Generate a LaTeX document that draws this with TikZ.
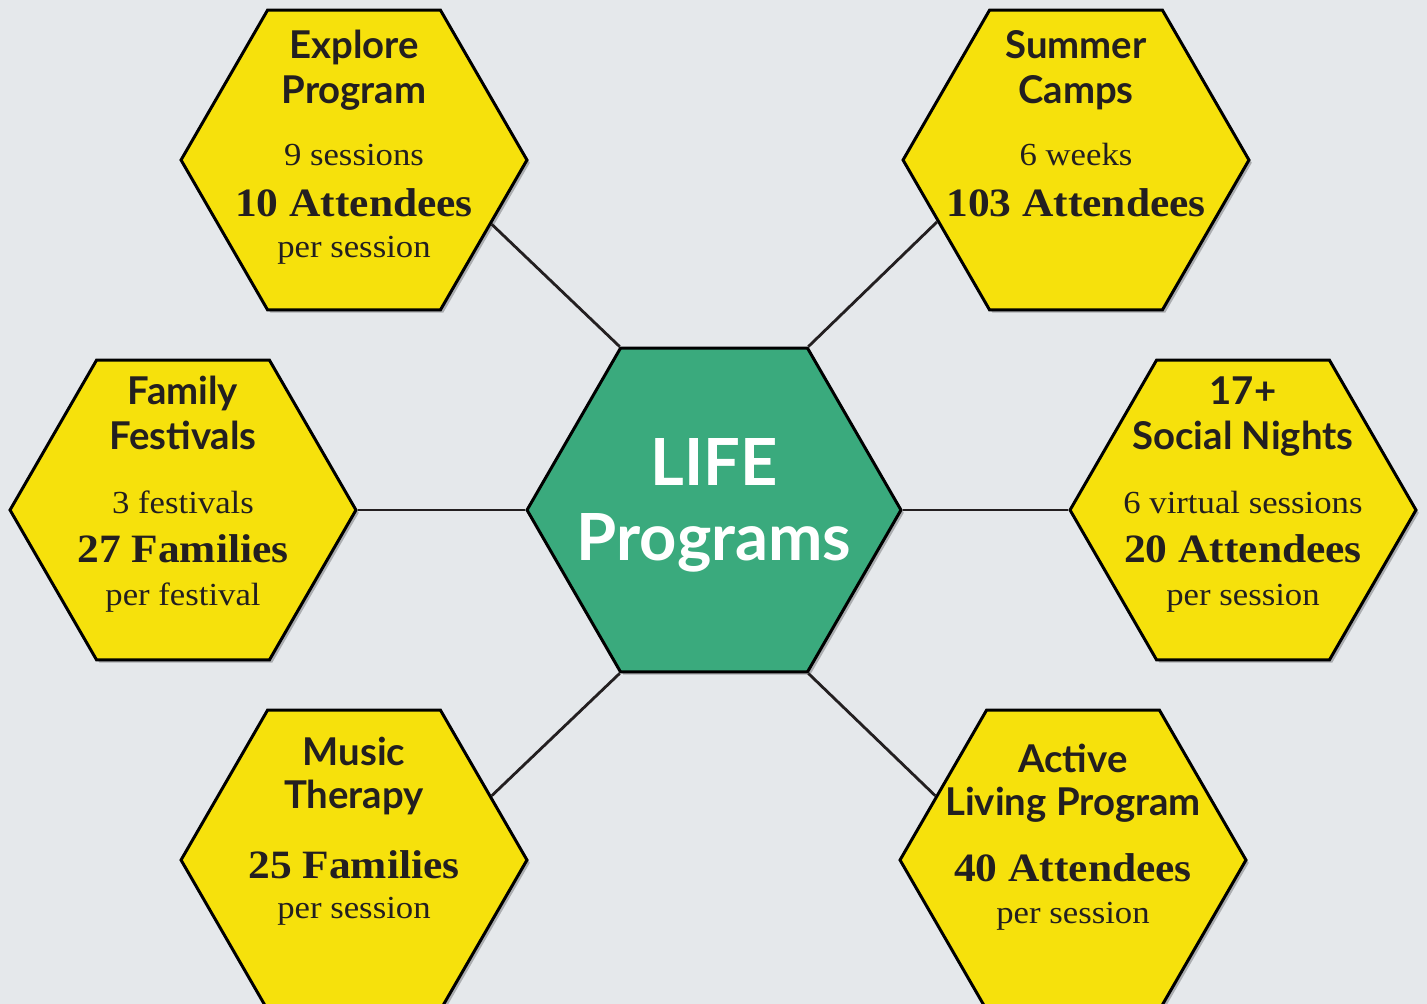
\documentclass[tikz,border=0pt]{standalone}
\usepackage{fontspec}
\setmainfont{Liberation Serif}[FakeStretch=1.08]
\newfontfamily\ttlfont{Lato}
\usepackage{tikz}
\usetikzlibrary{positioning, calc, shapes.geometric, shadows}

\definecolor{pagegray}{HTML}{E5E8EB}
\definecolor{hexyellow}{HTML}{F6E10C}
\definecolor{hubgreen}{HTML}{3AAA7D}
\definecolor{ink}{HTML}{231F20}

\tikzset{
	hexa/.style={regular polygon, regular polygon sides=6, draw=black, line width=1.7pt,
		minimum size=6.92cm, inner sep=0pt, fill=hexyellow,
		drop shadow={shadow xshift=1.6pt, shadow yshift=-1.6pt, opacity=0.25, fill=black}},
	hub/.style={hexa, minimum size=7.48cm, fill=hubgreen},
	ttl/.style={anchor=base, inner sep=0pt, text=ink, font=\ttlfont\bfseries\fontsize{21.8}{24}\selectfont},
	hubttl/.style={anchor=base, inner sep=0pt, text=white, font=\ttlfont\bfseries\fontsize{37}{40}\selectfont},
	sub/.style={anchor=base, inner sep=0pt, text=ink, font=\fontsize{18.3}{20}\selectfont},
	big/.style={anchor=base, inner sep=0pt, text=ink, font=\bfseries\fontsize{22.9}{24}\selectfont},
	link/.style={draw=ink, line width=1.6pt}
}

\begin{document}
\begin{tikzpicture}[x=0.02cm, y=-0.02cm]
	
	\useasboundingbox (0,0) rectangle (1427,1004);
	\clip (0,0) rectangle (1427,1004);
	\fill[pagegray] (0,0) rectangle (1427,1004);
	
	% hexagons
	\node (hub) at (714,510) [hub]{};
	\node (explore) at (354,160) [hexa]{};
	\node (summer) at (1076,160) [hexa]{};
	\node (family) at (183,510) [hexa]{};
	\node (social) at (1243,510) [hexa]{};
	\node (music) at (354,860) [hexa]{};
	\node (active) at (1073,860) [hexa]{};
	
	% links
	\draw[link] (hub.120) -- (explore.-25);
	\draw[link] (hub.60) -- (summer.204);
	\draw[link] (hub.180) -- (family.0);
	\draw[link] (hub.0) -- (social.180);
	\draw[link] (hub.240) -- (music.25);
	\draw[link] (hub.300) -- (active.155);
	
	% centre
	\node (hub1) at ($(hub)+(0,-25)$) [hubttl]{LIFE};
	\node (hub2) at ($(hub)+(0,50)$) [hubttl]{Programs};
	
	% explore
	\node (explore1) at ($(explore)+(0,-102)$) [ttl]{Explore};
	\node (explore2) at ($(explore)+(0,-57)$) [ttl]{Program};
	\node (explore3) at ($(explore)+(0,5)$) [sub]{9 sessions};
	\node (explore4) at ($(explore)+(0,56)$) [big]{10 Attendees};
	\node (explore5) at ($(explore)+(0,97)$) [sub]{per session};
	
	% summer
	\node (summer1) at ($(summer)+(0,-102)$) [ttl]{Summer};
	\node (summer2) at ($(summer)+(0,-57)$) [ttl]{Camps};
	\node (summer3) at ($(summer)+(0,5)$) [sub]{6 weeks};
	\node (summer4) at ($(summer)+(0,56)$) [big]{103 Attendees};
	
	% family
	\node (family1) at ($(family)+(0,-106)$) [ttl]{Family};
	\node (family2) at ($(family)+(0,-61)$) [ttl]{Festivals};
	\node (family3) at ($(family)+(0,3)$) [sub]{3 festivals};
	\node (family4) at ($(family)+(0,52)$) [big]{27 Families};
	\node (family5) at ($(family)+(0,95)$) [sub]{per festival};
	
	% social
	\node (social1) at ($(social)+(0,-106)$) [ttl]{17+};
	\node (social2) at ($(social)+(0,-61)$) [ttl]{Social Nights};
	\node (social3) at ($(social)+(0,3)$) [sub]{6 virtual sessions};
	\node (social4) at ($(social)+(0,52)$) [big]{20 Attendees};
	\node (social5) at ($(social)+(0,95)$) [sub]{per session};
	
	% music
	\node (music1) at ($(music)+(0,-95)$) [ttl]{Music};
	\node (music2) at ($(music)+(0,-52)$) [ttl]{Therapy};
	\node (music3) at ($(music)+(0,18)$) [big]{25 Families};
	\node (music4) at ($(music)+(0,58)$) [sub]{per session};
	
	% active
	\node (active1) at ($(active)+(0,-88)$) [ttl]{Active};
	\node (active2) at ($(active)+(0,-45)$) [ttl]{Living Program};
	\node (active3) at ($(active)+(0,21)$) [big]{40 Attendees};
	\node (active4) at ($(active)+(0,63)$) [sub]{per session};
	
\end{tikzpicture}
\end{document}
